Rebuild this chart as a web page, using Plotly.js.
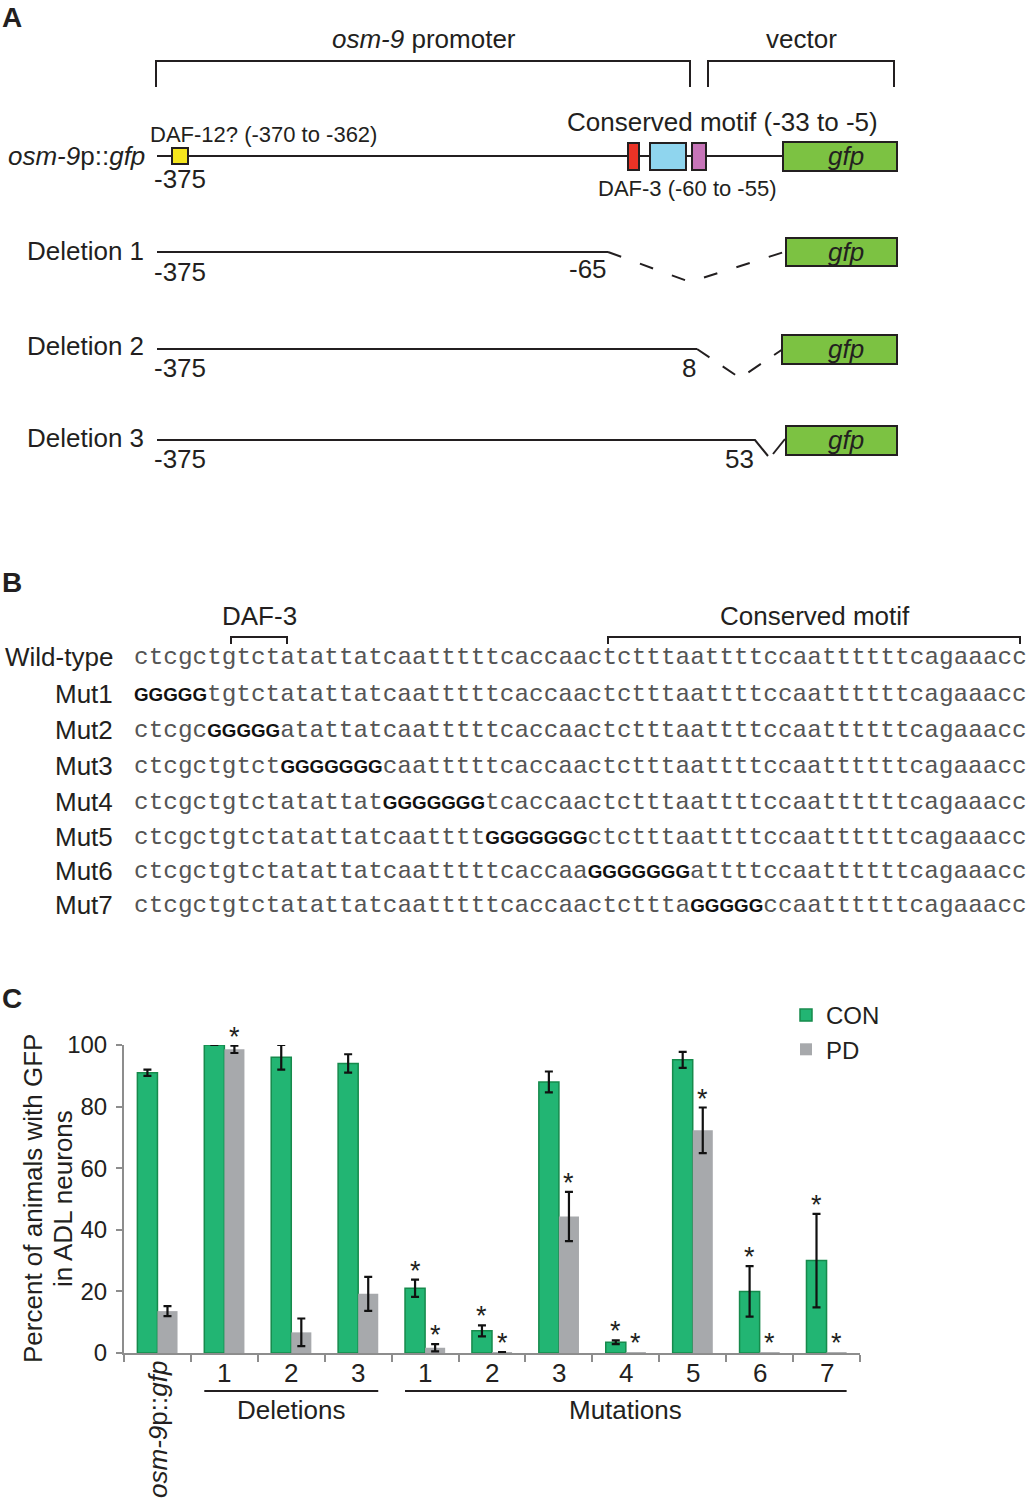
<!DOCTYPE html>
<html><head><meta charset="utf-8">
<script src="https://cdn.plot.ly/plotly-3.0.1.min.js"></script>
<style>html,body{margin:0;padding:0;background:#fff}#chart{width:1028px;height:1500px}</style>
</head><body><div id="chart"></div>
<script>
// ---------- Panel C data ----------
const groupLabels = ["osm-9p::gfp","1","2","3","1","2","3","4","5","6","7"];
const conValues = [91, 100, 96, 94, 21, 7.2, 88, 3.5, 95.2, 20, 30];
const conErrors = [1, 0, 4, 3, 2.8, 1.8, 3.4, 0.6, 2.6, 8.2, 15.2];
const pdValues  = [13.6, 98.6, 6.7, 19.2, 1.7, 0.3, 44.3, 0.3, 72.3, 0.3, 0.3];
const pdErrors  = [1.6, 1.2, 4.5, 5.5, 1.2, 0, 8, null, 7.4, null, null];
const conSignificant = [0,0,0,0,1,1,0,1,0,1,1];
const pdSignificant  = [0,1,0,0,1,1,1,1,1,1,1];
const groupNames = ["Deletions","Mutations"];
const groupMembers = [[1,2,3],[4,5,6,7,8,9,10]];
const yTicks = [0,20,40,60,80,100];
const seriesNames = ["CON","PD"];
const yTitle = ["Percent of animals with GFP","in ADL neurons"];

// ---------- Panel B data ----------
const wildType = "ctcgctgtctatattatcaatttttcaccaactctttaattttccaattttttcagaaacc";
const seqRowLabels = ["Wild-type","Mut1","Mut2","Mut3","Mut4","Mut5","Mut6","Mut7"];
const mutStart = [0, 5, 10, 17, 24, 31, 38];
const mutLength = [5, 5, 7, 7, 7, 7, 5];
const seqBrackets = ["DAF-3","Conserved motif"];

// ---------- Panel A data ----------
const constructLabels = ["osm-9p::gfp","Deletion 1","Deletion 2","Deletion 3"];
const startLabel = "-375";
const deletionEnds = ["-65","8","53"];
const regionLabels = ["osm-9 promoter","vector"];
const siteLabels = ["DAF-12? (-370 to -362)","Conserved motif (-33 to -5)","DAF-3 (-60 to -55)"];

// ---------- styling ----------
const SANS = "'Liberation Sans', Arial, sans-serif";
const MONO = "'Liberation Mono', 'Courier New', monospace";
const LC = '#231f20';
const AX = '#8d8d8d';
const GFP = '#7cc242';
const italicize = s => s.replace('osm-9','<i>osm-9</i>').replace(/gfp$/,'<i>gfp</i>');

const annotations = [];
const shapes = [];
function pa(text, x, y, size, o) {
  annotations.push(Object.assign({text, x, y, xref:'x3', yref:'y3', showarrow:false,
    font:{family:SANS, size:size, color:LC}, xanchor:'center', yanchor:'middle'}, o||{}));
}
function path(d, extra) {
  shapes.push(Object.assign({type:'path', xref:'x3', yref:'y3', path:d, line:{color:LC, width:2}}, extra||{}));
}
function rect(x0,y0,x1,y1,fill) {
  shapes.push({type:'rect', xref:'x3', yref:'y3', x0, y0, x1, y1, fillcolor:fill, line:{color:LC, width:2}});
}

// ---------- Panel A ----------
pa('<b>A</b>', 0, 17, 28, {xanchor:'left'});
pa(italicize(regionLabels[0]), 424, 39, 26);
pa(regionLabels[1], 801, 39, 26);
path('M156,87 V61 H690 V87');
path('M708,87 V61 H894 V87');
// full construct
pa(italicize(constructLabels[0]), 147, 156, 26, {xanchor:'right'});
path('M157,156 H784');
rect(172,148,188,164,'#f4e51d');
rect(628,143,639,170,'#ec3326');
rect(650,143,686,170,'#8fd5ee');
rect(692,143,706,170,'#c774b8');
rect(783,142,897,171,GFP);
pa('<i>gfp</i>', 846, 156, 26);
pa(siteLabels[0], 148, 134, 22, {xanchor:'left'});
pa(startLabel, 152, 179, 26, {xanchor:'left'});
pa(siteLabels[1], 722, 122, 26);
pa(siteLabels[2], 596, 188, 22, {xanchor:'left'});
// deletion 1
pa(constructLabels[1], 146, 251, 26, {xanchor:'right'});
path('M157,252 H608');
path('M608,252 L690,282 L784,252', {line:{color:LC, width:2, dash:'14px,20px'}});
rect(786,238,897,266,GFP);
pa('<i>gfp</i>', 846, 252, 26);
pa(startLabel, 152, 272, 26, {xanchor:'left'});
pa(deletionEnds[0], 588, 269, 26);
// deletion 2
pa(constructLabels[2], 146, 346, 26, {xanchor:'right'});
path('M157,349 H697');
path('M697,349 L740,378 L783,349', {line:{color:LC, width:2, dash:'15px,16px'}});
rect(782,335,897,364,GFP);
pa('<i>gfp</i>', 846, 349, 26);
pa(startLabel, 152, 368, 26, {xanchor:'left'});
pa(deletionEnds[1], 689, 368, 26);
// deletion 3
pa(constructLabels[3], 146, 438, 26, {xanchor:'right'});
path('M157,440 H755 L768,456');
path('M773,454 L785,439');
rect(786,426,897,455,GFP);
pa('<i>gfp</i>', 846, 440, 26);
pa(startLabel, 152, 459, 26, {xanchor:'left'});
pa(deletionEnds[2], 739, 459, 26);

// ---------- Panel B ----------
pa('<b>B</b>', 0, 582, 28, {xanchor:'left'});
pa(seqBrackets[0], 259, 616, 26);
path('M231,644 V637 H287 V644');
pa(seqBrackets[1], 815, 616, 26);
path('M608,644 V637 H1020 V644');
const sequences = [wildType].concat(mutStart.map((s,i) =>
  wildType.slice(0,s) + 'G'.repeat(mutLength[i]) + wildType.slice(s + mutLength[i])));
const rowY = [657, 694, 730, 766, 802, 837, 871, 905];
function styleSeq(seq) {
  return seq.replace(/[ACGT]+/g, m =>
    `<span style="font-family:'Liberation Sans',Arial;font-weight:bold;font-size:18.8px;color:#111">${m}</span>`);
}
sequences.forEach((seq, i) => {
  pa(seqRowLabels[i], 115, rowY[i], 26, {xanchor:'right'});
  annotations.push({text:styleSeq(seq), x:133, y:rowY[i], xref:'x3', yref:'y3', showarrow:false,
    xanchor:'left', yanchor:'middle', borderpad:0, font:{family:MONO, size:24.4, color:'#555'}});
});

// ---------- Panel C ----------
pa('<b>C</b>', 0, 998, 28, {xanchor:'left'});
pa(yTitle[0], 33, 1199, 26, {textangle:-90});
pa(yTitle[1], 63, 1199, 26, {textangle:-90});
groupLabels.forEach((lab, i) => {
  if (i === 0) {
    annotations.push({text:italicize(lab), x:i, xref:'x', y:1359, yref:'y3', showarrow:false,
      textangle:-90, xanchor:'center', yanchor:'top', font:{family:SANS, size:26, color:LC}});
  } else {
    annotations.push({text:lab, x:i, xref:'x', y:1373, yref:'y3', showarrow:false,
      xanchor:'center', yanchor:'middle', font:{family:SANS, size:26, color:LC}});
  }
});
groupMembers.forEach((m, g) => {
  const a = m[0], b = m[m.length-1];
  shapes.push({type:'line', xref:'x', yref:'y3', x0:a-0.3, x1:b+0.3, y0:1391, y1:1391, line:{color:LC, width:2}});
  annotations.push({text:groupNames[g], x:(a+b)/2, xref:'x', y:1410, yref:'y3', showarrow:false,
    xanchor:'center', yanchor:'middle', font:{family:SANS, size:26, color:LC}});
});

const idx = groupLabels.map((_, i) => i);
const bargap = 0.4;
const half = (1 - bargap) / 4;
// significance asterisks (annotations so they may sit above the axis top)
function star(x, top) {
  annotations.push({text:'*', x:x, y:top, xref:'x', yref:'y', showarrow:false,
    xanchor:'center', yanchor:'bottom', yshift:-8, font:{family:SANS, size:27, color:LC}});
}
idx.forEach(i => {
  if (conSignificant[i]) star(i - half, conValues[i] + (conErrors[i] || 0));
  if (pdSignificant[i])  star(i + half, pdValues[i] + (pdErrors[i] || 0));
});

const traces = [
  {type:'bar', name:seriesNames[0], x:idx, y:conValues,
   marker:{color:'#22b573', line:{color:'#168a4c', width:1.5}},
   error_y:{type:'data', array:conErrors, visible:true, color:'#111', thickness:2.2, width:4},
   hoverinfo:'y'},
  {type:'bar', name:seriesNames[1], x:idx, y:pdValues,
   marker:{color:'#a7a9ac', line:{width:0}},
   error_y:{type:'data', array:pdErrors.map(v => v === null ? NaN : v), visible:true, color:'#111', thickness:2.2, width:4},
   hoverinfo:'y'},
  {type:'scatter', x:[], y:[], xaxis:'x3', yaxis:'y3', showlegend:false, hoverinfo:'skip'}
];

const layout = {
  width:1028, height:1500, margin:{l:0, r:0, t:0, b:0},
  paper_bgcolor:'#fff', plot_bgcolor:'rgba(0,0,0,0)',
  font:{family:SANS, color:LC, size:24},
  barmode:'group', bargap:bargap, bargroupgap:0,
  showlegend:true,
  legend:{x:786/1028, y:1-993/1500, xanchor:'left', yanchor:'top', font:{family:SANS, size:24, color:LC},
          bgcolor:'rgba(0,0,0,0)', traceorder:'normal'},
  xaxis:{domain:[124/1028, 860/1028], range:[-0.5, 10.5],
         tickvals:idx.map(i => i - 0.5).concat([idx.length - 0.5]),
         ticks:'outside', ticklen:7, tickwidth:2, tickcolor:AX, showticklabels:false,
         showline:true, linecolor:AX, linewidth:2, showgrid:false, zeroline:false, fixedrange:true},
  yaxis:{domain:[1-1353/1500, 1-1045/1500], range:[0, 100], tickvals:yTicks,
         ticks:'outside', ticklen:6, tickwidth:2, tickcolor:AX, ticklabelstandoff:4,
         tickfont:{family:SANS, size:24, color:LC},
         showline:true, linecolor:AX, linewidth:2, showgrid:false, zeroline:false, fixedrange:true},
  xaxis3:{domain:[0,1], range:[0,1028], anchor:'y3', visible:false, fixedrange:true},
  yaxis3:{domain:[0,1], range:[1500,0], anchor:'x3', visible:false, fixedrange:true},
  shapes:shapes,
  annotations:annotations
};
Plotly.newPlot('chart', traces, layout, {displayModeBar:false, staticPlot:true});
</script></body></html>
